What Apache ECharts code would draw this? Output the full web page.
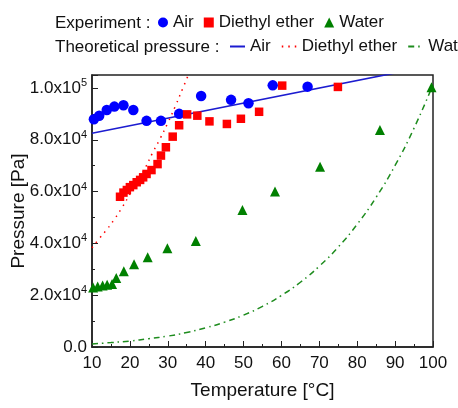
<!DOCTYPE html>
<html><head><meta charset="utf-8">
<script src="https://cdn.jsdelivr.net/npm/echarts@6/dist/echarts.min.js"></script>
<style>html,body{margin:0;padding:0;background:#fff;}#c{width:458px;height:408px;}</style>
</head><body><div id="c"></div>
<script>
// Experimental data
const airExpT = [10.5, 11.9, 13.9, 15.9, 18.3, 20.9, 24.4, 28.2, 33.0, 38.8, 46.7, 51.3, 57.7, 66.9];
const airExpP = [87900, 89300, 91500, 92800, 93300, 91500, 87300, 87300, 90000, 96900, 95400, 94100, 101000, 100500];
const etherExpT = [17.4, 18.3, 19.2, 20.0, 20.9, 21.8, 22.7, 23.5, 24.4, 25.7, 27.3, 28.2, 29.5, 31.3, 33.0, 35.1, 37.8, 41.0, 45.6, 49.3, 54.1, 60.2, 74.9];
const etherExpP = [58000, 59600, 60600, 61700, 62500, 63600, 64500, 65500, 66800, 68300, 70600, 73900, 77100, 81200, 85600, 89800, 89300, 87100, 86100, 88100, 90800, 100900, 100400];
const waterExpT = [10.3, 11.5, 12.8, 14.0, 15.3, 16.4, 18.4, 21.1, 24.7, 29.9, 37.4, 49.7, 58.3, 70.2, 86.0, 99.6];
const waterExpP = [23000, 23400, 23700, 24000, 24300, 26600, 29200, 31900, 34600, 38100, 40900, 52900, 60000, 69600, 83800, 100300];
// Theoretical curves
const airThT = [10, 100];
const airThP = [82500, 108700];
const etherThT = [10, 12, 14, 16, 18, 20, 22, 24, 26, 28, 30, 32, 34, 36];
const etherThP = [38300, 42000, 45500, 49500, 54000, 59000, 64000, 69000, 75000, 80500, 86500, 93000, 100000, 107000];
const waterThT = [10, 15, 20, 25, 30, 35, 40, 45, 50, 55, 60, 65, 70, 75, 80, 85, 90, 95, 100];
const waterThP = [1200, 1700, 2300, 3200, 4200, 5600, 7400, 9600, 12300, 15700, 19900, 25000, 31200, 38600, 47400, 57800, 70100, 84500, 101300];
// Tick labels
const yTickValues = [0, 20000, 40000, 60000, 80000, 100000];
const yTickMant = ['0.0', '2.0x10', '4.0x10', '6.0x10', '8.0x10', '1.0x10'];
const yTickExp = ['', '4', '4', '4', '4', '5'];
const xTickValues = [10, 20, 30, 40, 50, 60, 70, 80, 90, 100];

const zip = (a, b) => a.map((v, i) => [v, b[i]]);
const FONT = 'Liberation Sans, Arial, sans-serif';
const chart = echarts.init(document.getElementById('c'), null, {renderer: 'canvas'});
const blue = '#0000ff', red = '#ff0000', green = '#008000';
chart.setOption({
  animation: false,
  textStyle: {fontFamily: FONT},
  grid: {left: 92, top: 75, width: 341, height: 272, containLabel: false, outerBoundsMode: 'none',
         show: true, borderColor: '#222', borderWidth: 1.5, backgroundColor: 'transparent'},
  xAxis: {
    type: 'value', min: 10, max: 100, interval: 10,
    name: 'Temperature [\u00B0C]', nameLocation: 'middle', nameGap: 34, nameMoveOverlap: false,
    nameTextStyle: {fontSize: 19, color: '#111', fontFamily: FONT},
    axisLine: {lineStyle: {color: '#222', width: 1.5}},
    axisTick: {inside: true, length: 6, lineStyle: {color: '#222', width: 1}},
    minorTick: {show: true, splitNumber: 2, length: 3, lineStyle: {color: '#222', width: 1}},
    splitLine: {show: false},
    axisLabel: {fontSize: 17, color: '#111', margin: 8, fontFamily: FONT,
      formatter: v => xTickValues.indexOf(v) >= 0 ? String(v) : ''}
  },
  yAxis: {
    type: 'value', min: 0, max: 105000, interval: 20000,
    name: 'Pressure [Pa]', nameLocation: 'middle', nameGap: 64, nameRotate: 90, nameMoveOverlap: false,
    nameTextStyle: {fontSize: 19, color: '#111', fontFamily: FONT},
    axisLine: {lineStyle: {color: '#222', width: 1.5}},
    axisTick: {inside: true, length: 6, lineStyle: {color: '#222', width: 1}},
    minorTick: {show: true, splitNumber: 2, length: 3, lineStyle: {color: '#222', width: 1}},
    splitLine: {show: false},
    axisLabel: {
      margin: 5, color: '#111', fontSize: 17, fontFamily: FONT,
      formatter: function (v) {
        const i = yTickValues.indexOf(v);
        if (i < 0) return '';
        return '{m|' + yTickMant[i] + '}' + (yTickExp[i] ? '{s|' + yTickExp[i] + '}' : '');
      },
      rich: {
        m: {fontSize: 17, color: '#111', fontFamily: FONT},
        s: {fontSize: 11, color: '#111', fontFamily: FONT, padding: [0, 0, 10, 0]}
      }
    }
  },
  legend: [
    {left: 158, top: 14, padding: 0, itemGap: 10, itemWidth: 10, itemHeight: 10, width: 400,
     textStyle: {fontSize: 17, color: '#111', fontFamily: FONT},
     formatter: n => n.trim(),
     data: [{name: 'Air', icon: 'circle'}, {name: 'Diethyl ether', icon: 'rect'}, {name: 'Water', icon: 'triangle'}]},
    {left: 229, top: 38, padding: 0, itemGap: 10, itemWidth: 15, itemHeight: 10, width: 400,
     textStyle: {fontSize: 17, color: '#111', fontFamily: FONT},
     itemStyle: {opacity: 0},
     formatter: n => n.trim(),
     data: ['Air ', 'Diethyl ether ', 'Water ']}
  ],
  graphic: [
    {type: 'text', left: 55, top: 15, style: {text: 'Experiment :', fontSize: 17, fill: '#111', fontFamily: FONT}},
    {type: 'text', left: 55, top: 39, style: {text: 'Theoretical pressure :', fontSize: 17, fill: '#111', fontFamily: FONT}}
  ],
  series: [
    {name: 'Air ', type: 'line', data: zip(airThT, airThP), symbol: 'none', lineStyle: {color: '#1c1cd0', width: 1.6}, itemStyle: {color: '#1c1cd0'}, clip: true, z: 2},
    {name: 'Diethyl ether ', type: 'line', data: zip(etherThT, etherThP), symbol: 'none', smooth: true, lineStyle: {color: red, width: 1.5, type: [1.5, 5]}, itemStyle: {color: red}, clip: true, z: 2},
    {name: 'Water ', type: 'line', data: zip(waterThT, waterThP), symbol: 'none', smooth: true, lineStyle: {color: '#1e8c1e', width: 1.5, type: [6, 4, 1.5, 4]}, itemStyle: {color: '#1e8c1e'}, clip: true, z: 2},
    {name: 'Air', type: 'scatter', data: zip(airExpT, airExpP), symbol: 'circle', symbolSize: 10.5, itemStyle: {color: blue, opacity: 1}, z: 3},
    {name: 'Diethyl ether', type: 'scatter', data: zip(etherExpT, etherExpP), symbol: 'rect', symbolSize: 8.5, itemStyle: {color: red, opacity: 1}, z: 3},
    {name: 'Water', type: 'scatter', data: zip(waterExpT, waterExpP), symbol: 'triangle', symbolSize: 10, itemStyle: {color: green, opacity: 1}, z: 3}
  ]
});
</script></body></html>
